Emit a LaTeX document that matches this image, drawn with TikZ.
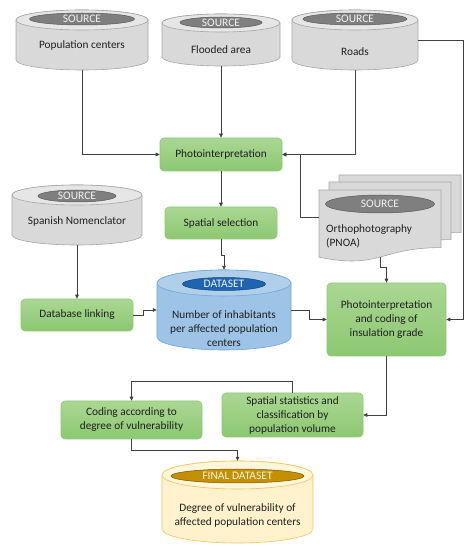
\documentclass[tikz,border=0pt]{standalone}
\usepackage{fontspec}
\setmainfont{Carlito}
\usetikzlibrary{arrows.meta,shapes.geometric}

\definecolor{drumfill}{HTML}{D9D9D9}
\definecolor{drumlid}{HTML}{E6E6E6}
\definecolor{drumline}{HTML}{A6A6A6}
\definecolor{srcfill}{HTML}{7F7F7F}
\definecolor{srcline}{HTML}{595959}
\definecolor{bluefill}{HTML}{9DC3E6}
\definecolor{bluelid}{HTML}{AFCFEB}
\definecolor{blueline}{HTML}{6FA8DC}
\definecolor{bluecore}{HTML}{1F64B0}
\definecolor{goldfill}{HTML}{FFF2CC}
\definecolor{goldlid}{HTML}{FFF6DB}
\definecolor{goldline}{HTML}{F2C45A}
\definecolor{goldcore}{HTML}{C49000}
\definecolor{greentop}{HTML}{AAD793}
\definecolor{greenbot}{HTML}{8CC871}
\definecolor{greenline}{HTML}{8DC873}
\definecolor{wire}{HTML}{404040}
\definecolor{ink}{HTML}{1F1F1F}

\tikzset{
  gray body/.style={fill=drumfill,draw=drumline,line width=0.6pt},
  gray lid/.style={fill=drumlid,draw=drumline,line width=0.6pt},
  blue body/.style={fill=bluefill,draw=blueline,line width=0.6pt},
  blue lid/.style={fill=bluelid,draw=blueline,line width=0.6pt},
  gold body/.style={fill=goldfill,draw=goldline,line width=0.6pt},
  gold lid/.style={fill=goldlid,draw=goldline,line width=0.6pt},
  core/.style={ellipse,inner sep=0pt,text=white!95!black,font=\fontsize{11.5}{13}\selectfont},
  graycore/.style={core,fill=srcfill,draw=srcline,line width=0.5pt},
  bluecore/.style={core,fill=bluecore,draw=bluecore!70!black,line width=0.5pt},
  goldcore/.style={core,fill=goldcore,draw=goldcore!60!black,line width=0.5pt},
  label/.style={text=ink,align=center,inner sep=0pt,font=\fontsize{11.3}{14}\selectfont},
  task/.style={rectangle,rounded corners=4pt,top color=greentop,bottom color=greenbot,
    draw=greenline,line width=0.6pt,text=ink,align=center,inner sep=1pt,
    font=\fontsize{11.3}{14}\selectfont},
  sheet/.style={fill=drumfill,draw=drumline,line width=0.6pt},
  link/.style={draw=wire,line width=0.7pt,-{Triangle[length=4pt,width=3.6pt]}}
}

% drum: name, x, y, half width, half height, lid radius, colour
\newcommand{\drum}[7]{%
  \begin{scope}[shift={(#2,#3)}]
    \filldraw[#7 body] (-#4,{#5-#6}) -- (-#4,{-#5+#6})
      arc[start angle=180,end angle=360,x radius=#4,y radius=#6]
      -- (#4,{#5-#6}) arc[start angle=0,end angle=180,x radius=#4,y radius=#6] -- cycle;
    \filldraw[#7 lid] (0,{#5-#6}) ellipse[x radius=#4,y radius=#6];
  \end{scope}
  \node[inner sep=0pt,minimum width={2*#4pt},minimum height={2*#5pt}] (#1) at (#2,#3) {};
}

% paper sheet with wavy bottom: left x, top y
\newcommand{\paper}[2]{%
  \filldraw[sheet] (#1,#2) -- ({#1+122},#2) -- ({#1+122},{#2-57.6})
    .. controls ({#1+61},{#2-57.6}) and ({#1+61},{#2-79.6}) .. (#1,{#2-67.2}) -- cycle;
}

\begin{document}
\begin{tikzpicture}[x=1pt,y=1pt]
  \useasboundingbox (0,0) rectangle (474,550);

  % sources
  \drum{pop}{82}{510}{66}{30}{10}{gray}
  \node[graycore,minimum width=105pt,minimum height=12pt] (popsrc) at (82,531) {SOURCE};
  \node[label] (poptext) at (82,505) {Population centers};

  \drum{flood}{221}{510}{59}{26}{9}{gray}
  \node[graycore,minimum width=82pt,minimum height=11pt] (floodsrc) at (221,527.5) {SOURCE};
  \node[label] (floodtext) at (221,500) {Flooded area};

  \drum{roads}{355}{510}{63}{30}{10}{gray}
  \node[graycore,minimum width=104pt,minimum height=12pt] (roadssrc) at (355,531) {SOURCE};
  \node[label] (roadstext) at (355,498) {Roads};

  \drum{nomen}{77}{335}{65}{30}{10}{gray}
  \node[graycore,minimum width=78pt,minimum height=12pt] (nomensrc) at (77,354) {SOURCE};
  \node[label] (nomentext) at (77,329) {Spanish Nomenclator};

  % orthophotos
  \paper{339}{375}
  \paper{329}{368}
  \paper{319}{360}
  \node[inner sep=0pt,minimum width=122pt,minimum height=67pt] (ortho) at (380,326.5) {};
  \node[graycore,minimum width=109pt,minimum height=18pt] (orthosrc) at (380,346) {SOURCE};
  \node[label,anchor=west,align=left] (orthotext) at (326,314) {Orthophotography\\(PNOA)};

  % datasets
  \drum{data}{224}{240}{67}{40}{13}{blue}
  \node[bluecore,minimum width=83pt,minimum height=13pt] (datasrc) at (224,266) {DATASET};
  \node[label] (datatext) at (224,221) {Number of inhabitants\\per affected population\\centers};

  \drum{final}{237.5}{48}{75.5}{41}{14}{gold}
  \node[goldcore,minimum width=133pt,minimum height=14pt] (finalsrc) at (237.5,74) {FINAL DATASET};
  \node[label] (finaltext) at (237.5,34.5) {Degree of vulnerability of\\affected population centers};

  % processes
  \node[task,minimum width=122pt,minimum height=33pt] (photo) at (221,395.5) {Photointerpretation};
  \node[task,minimum width=112pt,minimum height=32pt] (select) at (221,327) {Spatial selection};
  \node[task,minimum width=112pt,minimum height=32pt] (join) at (77,235) {Database linking};
  \node[task,minimum width=119pt,minimum height=73pt] (insul) at (386.5,230.5)
    {Photointerpretation\\and coding of\\insulation grade};
  \node[task,minimum width=141pt,minimum height=44pt] (stats) at (292.5,135)
    {Spatial statistics and\\classification by\\population volume};
  \node[task,minimum width=141pt,minimum height=38pt] (coding) at (131.5,130)
    {Coding according to\\degree of vulnerability};

  % connectors
  \draw[link] (pop.south) |- (photo.west);
  \draw[link] (flood.south) -- (photo.north);
  \draw[link] (roads.south) |- (photo.east);
  \draw[link] (roads.east) -- ++(45,0) |- (insul.east);
  \draw[link] ([yshift=6.5pt]ortho.west) -- ++(-18,0) |- (photo.east);
  \draw[link] (photo.south) -- (select.north);
  \draw[link] (select.south) -- ++(0,-16) -| (data.north);
  \draw[link] (nomen.south) -- (join.north);
  \draw[link] (join.east) -- ++(10,0) |- (data.west);
  \draw[link] (data.east) -- ++(18,0) |- (insul.west);
  \draw[link] (ortho.south) -- ++(0,-10) -| (insul.north);
  \draw[link] (insul.south) |- (stats.east);
  \draw[link] (stats.north) -- ++(0,11) -| (coding.north);
  \draw[link] (coding.south) -- ++(0,-11) -| (final.north);
\end{tikzpicture}
\end{document}
